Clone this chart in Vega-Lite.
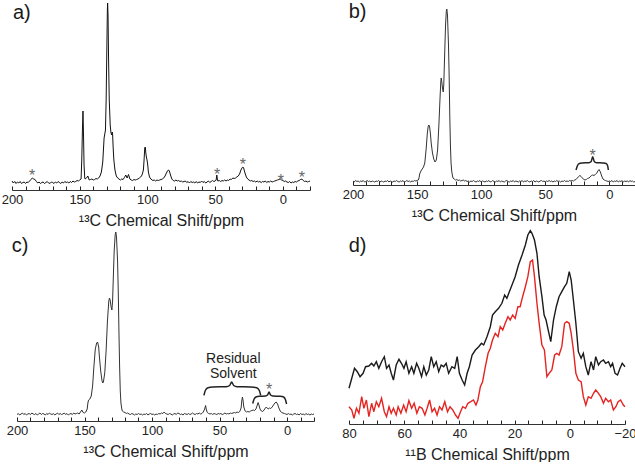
{
"$schema": "https://vega.github.io/schema/vega-lite/v6.json",
"padding": 0,
"background": "white",
"config": {
 "view": {"stroke": null},
 "font": "Liberation Sans",
 "axis": {"labelFont": "Liberation Sans", "titleFont": "Liberation Sans", "labelFontSize": 13, "titleFontSize": 16, "titleFontWeight": "normal", "labelColor": "#222", "titleColor": "#222", "domainColor": "#333", "tickColor": "#222", "tickWidth": 1, "domainWidth": 1, "grid": false},
 "text": {"font": "Liberation Sans"}
},
"datasets": {
 "a": [
  {"x":200,"y":9},{"x":199,"y":7},{"x":198,"y":8.5},{"x":197,"y":6.5},{"x":196,"y":8},{"x":195,"y":7},{"x":194,"y":8.5},{"x":193,"y":6.5},{"x":192,"y":7.5},{"x":191,"y":8},{"x":190,"y":6.5},{"x":189,"y":8},{"x":188,"y":7.5},{"x":187,"y":9},{"x":186,"y":10.5},{"x":185,"y":12},{"x":184,"y":11},{"x":183,"y":10.5},{"x":182,"y":8.5},{"x":181,"y":7},{"x":180,"y":8},{"x":179,"y":6.5},{"x":178,"y":7.5},{"x":177,"y":8},{"x":176,"y":6.5},{"x":175,"y":7.5},{"x":174,"y":8.5},{"x":173,"y":7},{"x":172,"y":6.5},{"x":171,"y":8},{"x":170,"y":7.5},{"x":169,"y":6.5},{"x":168,"y":8},{"x":167,"y":7},{"x":166,"y":8.5},{"x":165,"y":7.5},{"x":164,"y":6.5},{"x":163,"y":8},{"x":162,"y":7},{"x":161,"y":8.5},{"x":160,"y":7.5},{"x":159,"y":8},{"x":158,"y":7},{"x":157,"y":8.5},{"x":156,"y":7.5},{"x":155,"y":9},{"x":154,"y":8},{"x":153,"y":8.5},{"x":152,"y":9.5},{"x":151,"y":9},{"x":150,"y":10},{"x":149,"y":11},{"x":148.5,"y":30},{"x":148,"y":60},{"x":147.6,"y":79},{"x":147.2,"y":55},{"x":146.8,"y":25},{"x":146.3,"y":12},{"x":146,"y":11},{"x":145,"y":12},{"x":144,"y":14},{"x":143,"y":10},{"x":142,"y":10.5},{"x":141,"y":11},{"x":140,"y":10},{"x":139,"y":10.5},{"x":138,"y":11.5},{"x":137,"y":11},{"x":136,"y":12},{"x":135,"y":14},{"x":134,"y":18},{"x":133,"y":28},{"x":132.5,"y":40},{"x":132,"y":52},{"x":131.5,"y":56},{"x":131,"y":60},{"x":130.5,"y":90},{"x":130,"y":140},{"x":129.6,"y":180},{"x":129.4,"y":187},{"x":129.1,"y":175},{"x":128.7,"y":130},{"x":128.2,"y":90},{"x":127.5,"y":65},{"x":127,"y":58},{"x":126.5,"y":55},{"x":126,"y":58},{"x":125.7,"y":55},{"x":125.3,"y":42},{"x":124.8,"y":30},{"x":124,"y":20},{"x":123,"y":14},{"x":122,"y":12},{"x":121,"y":11},{"x":120,"y":10},{"x":119,"y":11},{"x":118,"y":10.5},{"x":117,"y":12.5},{"x":116,"y":15},{"x":115,"y":12},{"x":114,"y":15.5},{"x":113,"y":11},{"x":112,"y":10},{"x":111,"y":9.5},{"x":110,"y":10.5},{"x":109,"y":10},{"x":108,"y":10.5},{"x":107,"y":11},{"x":106,"y":12},{"x":105,"y":13},{"x":104,"y":15},{"x":103,"y":20},{"x":102.5,"y":30},{"x":102,"y":42},{"x":101.6,"y":43},{"x":101.2,"y":37},{"x":100.8,"y":33},{"x":100.3,"y":30},{"x":99.8,"y":25},{"x":99.3,"y":18},{"x":98.5,"y":13},{"x":97.5,"y":11},{"x":96,"y":9.5},{"x":95,"y":10},{"x":94,"y":9},{"x":93,"y":10},{"x":92,"y":9.5},{"x":91,"y":10},{"x":90,"y":10.5},{"x":89,"y":11},{"x":88,"y":12},{"x":87,"y":14},{"x":86,"y":17},{"x":85,"y":19.5},{"x":84.4,"y":20},{"x":83.8,"y":19},{"x":83,"y":15},{"x":82,"y":11},{"x":81,"y":9.5},{"x":80,"y":9},{"x":79,"y":10},{"x":78,"y":9},{"x":77,"y":9.5},{"x":76,"y":8.5},{"x":75,"y":9},{"x":74,"y":8},{"x":73,"y":8.5},{"x":72,"y":9},{"x":71,"y":7.5},{"x":70,"y":8.5},{"x":69,"y":7},{"x":68,"y":8.5},{"x":67,"y":7.5},{"x":66,"y":8},{"x":65,"y":7},{"x":64,"y":8.5},{"x":63,"y":7},{"x":62,"y":8},{"x":61,"y":7.5},{"x":60,"y":9},{"x":59,"y":7.5},{"x":58,"y":8.5},{"x":57,"y":7},{"x":56,"y":8},{"x":55,"y":9},{"x":54,"y":7.5},{"x":53,"y":8.5},{"x":52,"y":9.5},{"x":51,"y":8.5},{"x":50,"y":9},{"x":49.3,"y":10},{"x":48.8,"y":15},{"x":48.3,"y":10},{"x":48,"y":9},{"x":47,"y":9.5},{"x":46,"y":8.5},{"x":45,"y":9.5},{"x":44,"y":9},{"x":43,"y":10},{"x":42,"y":9},{"x":41,"y":10},{"x":40,"y":9.5},{"x":39,"y":11},{"x":38,"y":10.5},{"x":37,"y":12},{"x":36,"y":11.5},{"x":35,"y":12},{"x":34,"y":13},{"x":33,"y":14},{"x":32,"y":16},{"x":31,"y":20},{"x":30,"y":22.5},{"x":29.5,"y":23},{"x":29,"y":22},{"x":28,"y":17},{"x":27,"y":13},{"x":26,"y":11},{"x":25,"y":10},{"x":24,"y":9},{"x":23,"y":9.5},{"x":22,"y":8.5},{"x":21,"y":9},{"x":20,"y":8},{"x":19,"y":9},{"x":18,"y":8},{"x":17,"y":8.5},{"x":16,"y":7.5},{"x":15,"y":8.5},{"x":14,"y":8},{"x":13,"y":9},{"x":12,"y":7.5},{"x":11,"y":8.5},{"x":10,"y":8},{"x":9,"y":9},{"x":8,"y":8},{"x":7,"y":8.5},{"x":6,"y":9},{"x":5,"y":9.5},{"x":4,"y":10},{"x":3,"y":10.5},{"x":2,"y":11},{"x":1,"y":10},{"x":0,"y":9.5},{"x":-1,"y":8.5},{"x":-2,"y":9},{"x":-3,"y":8},{"x":-4,"y":7.5},{"x":-5,"y":8.5},{"x":-6,"y":7},{"x":-7,"y":8},{"x":-8,"y":7.5},{"x":-9,"y":8.5},{"x":-10,"y":8},{"x":-11,"y":9},{"x":-12,"y":9.5},{"x":-13,"y":10.5},{"x":-14,"y":11},{"x":-15,"y":9.5},{"x":-16,"y":8.5},{"x":-17,"y":9},{"x":-18,"y":8},{"x":-19,"y":8.5},{"x":-20,"y":9}
 ],
 "b": [
  {"x":200,"y":4},{"x":199,"y":3},{"x":198,"y":4.5},{"x":197,"y":3.5},{"x":196,"y":4},{"x":195,"y":3},{"x":194,"y":4},{"x":193,"y":3.5},{"x":192,"y":4.5},{"x":191,"y":3},{"x":190,"y":3.5},{"x":189,"y":4.5},{"x":188,"y":3.5},{"x":187,"y":4},{"x":186,"y":3},{"x":185,"y":4},{"x":184,"y":3.5},{"x":183,"y":3},{"x":182,"y":4},{"x":181,"y":3.5},{"x":180,"y":4.5},{"x":179,"y":3},{"x":178,"y":4},{"x":177,"y":3.5},{"x":176,"y":3},{"x":175,"y":4},{"x":174,"y":3.5},{"x":173,"y":4.5},{"x":172,"y":3},{"x":171,"y":4},{"x":170,"y":3.5},{"x":169,"y":3},{"x":168,"y":4},{"x":167,"y":3.5},{"x":166,"y":4.5},{"x":165,"y":3.5},{"x":164,"y":3},{"x":163,"y":4},{"x":162,"y":3.5},{"x":161,"y":4.5},{"x":160,"y":3},{"x":159,"y":3.5},{"x":158,"y":4.5},{"x":157,"y":3.5},{"x":156,"y":4},{"x":155,"y":3},{"x":154,"y":4},{"x":153,"y":3.5},{"x":152,"y":4.5},{"x":151,"y":4},{"x":150,"y":4.5},{"x":149,"y":5},{"x":148.5,"y":7},{"x":148,"y":11},{"x":147,"y":14},{"x":146.5,"y":15},{"x":146,"y":16},{"x":145,"y":18},{"x":144,"y":22},{"x":143,"y":35},{"x":142,"y":52},{"x":141.3,"y":59},{"x":140.8,"y":60},{"x":140.2,"y":58},{"x":139.5,"y":50},{"x":139,"y":42},{"x":138,"y":32},{"x":137,"y":26},{"x":136,"y":23},{"x":135,"y":25},{"x":134,"y":35},{"x":133,"y":60},{"x":132,"y":90},{"x":131.5,"y":103},{"x":131.2,"y":107},{"x":130.8,"y":104},{"x":130.2,"y":97},{"x":129.6,"y":93},{"x":129.2,"y":100},{"x":128.5,"y":130},{"x":127.8,"y":160},{"x":127.2,"y":174},{"x":126.8,"y":176},{"x":126.3,"y":170},{"x":125.5,"y":140},{"x":125,"y":110},{"x":124.5,"y":70},{"x":124,"y":40},{"x":123.5,"y":22},{"x":123,"y":14},{"x":122.5,"y":10},{"x":122,"y":7},{"x":121,"y":6},{"x":120,"y":5},{"x":119,"y":5.5},{"x":118,"y":4.5},{"x":117,"y":5},{"x":116,"y":4},{"x":115,"y":4.5},{"x":114,"y":5},{"x":113,"y":4},{"x":112,"y":4.5},{"x":111,"y":3.5},{"x":110,"y":4},{"x":109,"y":3},{"x":108,"y":4},{"x":107,"y":3.5},{"x":106,"y":4.5},{"x":105,"y":3.5},{"x":104,"y":3},{"x":103,"y":4},{"x":102,"y":3.5},{"x":101,"y":4.5},{"x":100,"y":3},{"x":99,"y":4},{"x":98,"y":3.5},{"x":97,"y":3},{"x":96,"y":4},{"x":95,"y":3.5},{"x":94,"y":4.5},{"x":93,"y":3},{"x":92,"y":3.5},{"x":91,"y":4.5},{"x":90,"y":3.5},{"x":89,"y":3},{"x":88,"y":4},{"x":87,"y":3.5},{"x":86,"y":4.5},{"x":85,"y":3},{"x":84,"y":4},{"x":83,"y":3.5},{"x":82,"y":3},{"x":81,"y":4},{"x":80,"y":4.5},{"x":79,"y":3.5},{"x":78,"y":3},{"x":77,"y":4},{"x":76,"y":3.5},{"x":75,"y":4.5},{"x":74,"y":3},{"x":73,"y":4},{"x":72,"y":3.5},{"x":71,"y":3},{"x":70,"y":4},{"x":69,"y":3.5},{"x":68,"y":4.5},{"x":67,"y":3},{"x":66,"y":4},{"x":65,"y":3.5},{"x":64,"y":4.5},{"x":63,"y":3.5},{"x":62,"y":3},{"x":61,"y":4},{"x":60,"y":3.5},{"x":59,"y":4.5},{"x":58,"y":3},{"x":57,"y":4},{"x":56,"y":3.5},{"x":55,"y":3},{"x":54,"y":4},{"x":53,"y":4.5},{"x":52,"y":3.5},{"x":51,"y":4},{"x":50,"y":3},{"x":49,"y":4},{"x":48,"y":3.5},{"x":47,"y":4.5},{"x":46,"y":3.5},{"x":45,"y":4},{"x":44,"y":3},{"x":43,"y":4},{"x":42,"y":3.5},{"x":41,"y":4.5},{"x":40,"y":3.5},{"x":39,"y":4},{"x":38,"y":3},{"x":37,"y":4},{"x":36,"y":3.5},{"x":35,"y":4.5},{"x":34,"y":3.5},{"x":33,"y":4},{"x":32,"y":3.5},{"x":31,"y":4.5},{"x":30,"y":4},{"x":29,"y":4.5},{"x":28,"y":4},{"x":27,"y":5},{"x":26,"y":5.5},{"x":25,"y":7},{"x":24,"y":8.5},{"x":23,"y":9.5},{"x":22,"y":8.5},{"x":21,"y":7},{"x":20,"y":5.5},{"x":19,"y":5},{"x":18,"y":5.5},{"x":17,"y":6.5},{"x":16,"y":7},{"x":15,"y":8},{"x":14,"y":9.5},{"x":13,"y":10},{"x":12,"y":9.5},{"x":11,"y":10.5},{"x":10,"y":11.5},{"x":9,"y":14},{"x":8,"y":15.5},{"x":7,"y":13},{"x":6,"y":9},{"x":5,"y":6},{"x":4,"y":5},{"x":3,"y":4.5},{"x":2,"y":4},{"x":1,"y":3.5},{"x":0,"y":4},{"x":-1,"y":3.5},{"x":-2,"y":4.5},{"x":-3,"y":3},{"x":-4,"y":4},{"x":-5,"y":3.5},{"x":-6,"y":4.5},{"x":-7,"y":3},{"x":-8,"y":4},{"x":-9,"y":3.5},{"x":-10,"y":4.5},{"x":-11,"y":3},{"x":-12,"y":4},{"x":-13,"y":3.5},{"x":-14,"y":4},{"x":-15,"y":3},{"x":-16,"y":4.5},{"x":-17,"y":3.5},{"x":-18,"y":4},{"x":-19,"y":3},{"x":-20,"y":3.5}
 ],
 "c": [
  {"x":200,"y":6.5},{"x":199,"y":7.5},{"x":198,"y":6},{"x":197,"y":7},{"x":196,"y":8},{"x":195,"y":6.5},{"x":194,"y":7.5},{"x":193,"y":6},{"x":192,"y":7},{"x":191,"y":7.5},{"x":190,"y":6.5},{"x":189,"y":8},{"x":188,"y":7},{"x":187,"y":6.5},{"x":186,"y":7.5},{"x":185,"y":6},{"x":184,"y":7},{"x":183,"y":8},{"x":182,"y":6.5},{"x":181,"y":7.5},{"x":180,"y":7},{"x":179,"y":6},{"x":178,"y":7.5},{"x":177,"y":6.5},{"x":176,"y":8},{"x":175,"y":7},{"x":174,"y":6.5},{"x":173,"y":7.5},{"x":172,"y":6},{"x":171,"y":7},{"x":170,"y":8},{"x":169,"y":6.5},{"x":168,"y":7.5},{"x":167,"y":6.5},{"x":166,"y":7},{"x":165,"y":8},{"x":164,"y":6.5},{"x":163,"y":7.5},{"x":162,"y":6},{"x":161,"y":7},{"x":160,"y":7.5},{"x":159,"y":6.5},{"x":158,"y":8},{"x":157,"y":7},{"x":156,"y":7.5},{"x":155,"y":8},{"x":154,"y":7},{"x":153,"y":9},{"x":152,"y":11},{"x":151,"y":8.5},{"x":150,"y":8},{"x":149,"y":9},{"x":148,"y":12},{"x":147.5,"y":18},{"x":147,"y":21},{"x":146,"y":22},{"x":145,"y":25},{"x":144,"y":35},{"x":143,"y":55},{"x":142,"y":72},{"x":141,"y":78},{"x":140.3,"y":79},{"x":139.5,"y":74},{"x":139,"y":65},{"x":138,"y":50},{"x":137,"y":40},{"x":136.5,"y":38},{"x":136,"y":39},{"x":135,"y":48},{"x":134,"y":70},{"x":133,"y":100},{"x":132,"y":120},{"x":131.5,"y":123},{"x":131,"y":121},{"x":130.3,"y":114},{"x":129.7,"y":111},{"x":129.2,"y":120},{"x":128.5,"y":150},{"x":128,"y":170},{"x":127.3,"y":186},{"x":126.8,"y":189},{"x":126.3,"y":184},{"x":125.5,"y":160},{"x":125,"y":130},{"x":124.5,"y":90},{"x":124,"y":55},{"x":123.5,"y":30},{"x":123,"y":18},{"x":122.5,"y":13},{"x":122,"y":10},{"x":121,"y":9},{"x":120,"y":8.5},{"x":119,"y":7.5},{"x":118,"y":8},{"x":117,"y":7},{"x":116,"y":6.5},{"x":115,"y":7.5},{"x":114,"y":7},{"x":113,"y":6},{"x":112,"y":7},{"x":111,"y":6.5},{"x":110,"y":7.5},{"x":109,"y":6.5},{"x":108,"y":7},{"x":107,"y":6},{"x":106,"y":7},{"x":105,"y":6.5},{"x":104,"y":7.5},{"x":103,"y":6},{"x":102,"y":7},{"x":101,"y":7.5},{"x":100,"y":6.5},{"x":99,"y":7},{"x":98,"y":6},{"x":97,"y":7},{"x":96,"y":6.5},{"x":95,"y":7.5},{"x":94,"y":7},{"x":93,"y":8},{"x":92,"y":7.5},{"x":91,"y":9},{"x":90,"y":7.5},{"x":89,"y":7},{"x":88,"y":6.5},{"x":87,"y":7.5},{"x":86,"y":7},{"x":85,"y":6},{"x":84,"y":7},{"x":83,"y":7.5},{"x":82,"y":6.5},{"x":81,"y":8},{"x":80,"y":7.5},{"x":79,"y":6.5},{"x":78,"y":7},{"x":77,"y":6},{"x":76,"y":7.5},{"x":75,"y":7},{"x":74,"y":6.5},{"x":73,"y":7.5},{"x":72,"y":6.5},{"x":71,"y":7},{"x":70,"y":8},{"x":69,"y":7},{"x":68,"y":6.5},{"x":67,"y":7.5},{"x":66,"y":7},{"x":65,"y":8},{"x":64,"y":7},{"x":63,"y":7.5},{"x":62,"y":9},{"x":61,"y":12},{"x":60.3,"y":15.5},{"x":59.7,"y":11},{"x":59,"y":8.5},{"x":58,"y":7.5},{"x":57,"y":7},{"x":56,"y":7.5},{"x":55,"y":6.5},{"x":54,"y":7.5},{"x":53,"y":7},{"x":52,"y":6.5},{"x":51,"y":7.5},{"x":50,"y":7},{"x":49,"y":7.5},{"x":48,"y":6.5},{"x":47,"y":7},{"x":46,"y":8},{"x":45,"y":7},{"x":44,"y":7.5},{"x":43,"y":7},{"x":42,"y":8},{"x":41,"y":7.5},{"x":40,"y":8},{"x":39,"y":8.5},{"x":38,"y":8},{"x":37,"y":9},{"x":36,"y":8.5},{"x":35,"y":9.5},{"x":34,"y":13},{"x":33.5,"y":20},{"x":33,"y":24},{"x":32.5,"y":20},{"x":32,"y":14},{"x":31,"y":10},{"x":30,"y":9},{"x":29,"y":9.5},{"x":28,"y":9},{"x":27,"y":10},{"x":26,"y":10.5},{"x":25,"y":11},{"x":24,"y":10.5},{"x":23,"y":12},{"x":22,"y":16},{"x":21.4,"y":18.5},{"x":20.8,"y":16},{"x":20,"y":12},{"x":19,"y":10},{"x":18,"y":9.5},{"x":17,"y":11},{"x":16,"y":13},{"x":15.3,"y":14},{"x":14.5,"y":12.5},{"x":14,"y":12},{"x":13,"y":13},{"x":12,"y":12.5},{"x":11,"y":14},{"x":10,"y":16},{"x":9,"y":18},{"x":8,"y":19},{"x":7,"y":17},{"x":6,"y":13},{"x":5,"y":10},{"x":4,"y":8.5},{"x":3,"y":8},{"x":2,"y":7.5},{"x":1,"y":7},{"x":0,"y":6.5},{"x":-1,"y":7.5},{"x":-2,"y":6.5},{"x":-3,"y":7},{"x":-4,"y":6},{"x":-5,"y":7},{"x":-6,"y":7.5},{"x":-7,"y":6.5},{"x":-8,"y":7},{"x":-9,"y":6},{"x":-10,"y":7.5},{"x":-11,"y":6.5},{"x":-12,"y":7},{"x":-13,"y":6},{"x":-14,"y":7.5},{"x":-15,"y":6.5},{"x":-16,"y":7},{"x":-17,"y":6},{"x":-18,"y":7},{"x":-19,"y":6.5},{"x":-20,"y":7}
 ],
 "d": [
  {"s":"k","x":80.0,"y":35.7},{"s":"k","x":79.0,"y":45.7},{"s":"k","x":78.0,"y":55.7},{"s":"k","x":77.0,"y":52.3},{"s":"k","x":76.0,"y":47.3},{"s":"k","x":74.9,"y":50.7},{"s":"k","x":74.0,"y":57.3},{"s":"k","x":72.8,"y":58.0},{"s":"k","x":71.8,"y":60.7},{"s":"k","x":71.0,"y":58.0},{"s":"k","x":70.1,"y":62.3},{"s":"k","x":69.2,"y":55.7},{"s":"k","x":68.2,"y":62.3},{"s":"k","x":67.2,"y":67.3},{"s":"k","x":66.4,"y":55.7},{"s":"k","x":65.5,"y":59.0},{"s":"k","x":64.7,"y":50.7},{"s":"k","x":63.9,"y":44.0},{"s":"k","x":62.9,"y":59.0},{"s":"k","x":61.9,"y":64.7},{"s":"k","x":61.0,"y":60.7},{"s":"k","x":60.1,"y":55.7},{"s":"k","x":59.3,"y":62.3},{"s":"k","x":58.3,"y":50.7},{"s":"k","x":57.3,"y":57.3},{"s":"k","x":56.5,"y":50.7},{"s":"k","x":55.5,"y":60.7},{"s":"k","x":54.7,"y":55.7},{"s":"k","x":53.7,"y":47.3},{"s":"k","x":52.9,"y":57.3},{"s":"k","x":52.0,"y":49.0},{"s":"k","x":51.1,"y":54.0},{"s":"k","x":50.2,"y":67.3},{"s":"k","x":49.3,"y":57.3},{"s":"k","x":48.4,"y":62.3},{"s":"k","x":47.5,"y":52.3},{"s":"k","x":46.6,"y":59.0},{"s":"k","x":45.7,"y":57.3},{"s":"k","x":44.8,"y":60.7},{"s":"k","x":43.9,"y":50.7},{"s":"k","x":42.7,"y":57.3},{"s":"k","x":41.7,"y":55.7},{"s":"k","x":40.8,"y":67.3},{"s":"k","x":40.0,"y":50.7},{"s":"k","x":39.0,"y":44.0},{"s":"k","x":38.1,"y":39.0},{"s":"k","x":37.2,"y":50.7},{"s":"k","x":36.4,"y":57.3},{"s":"k","x":35.4,"y":69.0},{"s":"k","x":34.2,"y":74.0},{"s":"k","x":33.0,"y":77.3},{"s":"k","x":32.0,"y":80.7},{"s":"k","x":31.2,"y":79.0},{"s":"k","x":30.0,"y":87.3},{"s":"k","x":28.8,"y":97.3},{"s":"k","x":28.0,"y":109.0},{"s":"k","x":27.0,"y":112.3},{"s":"k","x":25.8,"y":115.7},{"s":"k","x":24.6,"y":120.7},{"s":"k","x":23.6,"y":129.0},{"s":"k","x":22.8,"y":125.7},{"s":"k","x":21.9,"y":132.3},{"s":"k","x":20.7,"y":140.7},{"s":"k","x":19.8,"y":147.3},{"s":"k","x":18.6,"y":159.0},{"s":"k","x":17.3,"y":169.0},{"s":"k","x":16.1,"y":179.0},{"s":"k","x":15.2,"y":189.0},{"s":"k","x":14.3,"y":193.3},{"s":"k","x":13.7,"y":190.7},{"s":"k","x":12.8,"y":184.0},{"s":"k","x":11.9,"y":170.7},{"s":"k","x":11.1,"y":147.3},{"s":"k","x":10.1,"y":127.3},{"s":"k","x":9.3,"y":109.0},{"s":"k","x":8.6,"y":104.0},{"s":"k","x":7.7,"y":92.3},{"s":"k","x":6.9,"y":82.3},{"s":"k","x":5.9,"y":104.0},{"s":"k","x":4.9,"y":117.3},{"s":"k","x":3.9,"y":127.3},{"s":"k","x":2.9,"y":132.3},{"s":"k","x":1.9,"y":137.3},{"s":"k","x":1.1,"y":140.7},{"s":"k","x":0.2,"y":152.3},{"s":"k","x":-0.5,"y":144.0},{"s":"k","x":-1.3,"y":124.0},{"s":"k","x":-2.2,"y":100.7},{"s":"k","x":-3.1,"y":72.3},{"s":"k","x":-4.1,"y":65.7},{"s":"k","x":-4.9,"y":70.7},{"s":"k","x":-5.8,"y":57.3},{"s":"k","x":-6.7,"y":49.0},{"s":"k","x":-7.7,"y":62.3},{"s":"k","x":-8.6,"y":54.0},{"s":"k","x":-9.4,"y":67.3},{"s":"k","x":-10.4,"y":59.0},{"s":"k","x":-11.2,"y":62.3},{"s":"k","x":-12.2,"y":64.0},{"s":"k","x":-13.0,"y":60.7},{"s":"k","x":-14.0,"y":62.3},{"s":"k","x":-14.8,"y":57.3},{"s":"k","x":-15.5,"y":60.7},{"s":"k","x":-16.4,"y":50.7},{"s":"k","x":-17.3,"y":49.0},{"s":"k","x":-18.2,"y":55.7},{"s":"k","x":-19.0,"y":60.7},{"s":"k","x":-20.0,"y":57.3},
  {"s":"r","x":80.0,"y":17.3},{"s":"r","x":79.0,"y":14.0},{"s":"r","x":78.2,"y":5.7},{"s":"r","x":77.3,"y":15.7},{"s":"r","x":76.4,"y":10.7},{"s":"r","x":75.4,"y":27.3},{"s":"r","x":74.6,"y":15.7},{"s":"r","x":73.7,"y":24.0},{"s":"r","x":72.8,"y":7.3},{"s":"r","x":71.8,"y":20.7},{"s":"r","x":71.0,"y":12.3},{"s":"r","x":70.1,"y":22.3},{"s":"r","x":69.2,"y":17.3},{"s":"r","x":68.2,"y":25.7},{"s":"r","x":67.2,"y":12.3},{"s":"r","x":66.4,"y":7.3},{"s":"r","x":65.5,"y":17.3},{"s":"r","x":64.7,"y":10.7},{"s":"r","x":63.9,"y":15.7},{"s":"r","x":62.9,"y":9.0},{"s":"r","x":62.2,"y":17.3},{"s":"r","x":61.2,"y":10.7},{"s":"r","x":60.2,"y":19.0},{"s":"r","x":59.3,"y":12.3},{"s":"r","x":58.3,"y":23.3},{"s":"r","x":57.3,"y":15.7},{"s":"r","x":56.4,"y":20.7},{"s":"r","x":55.4,"y":10.7},{"s":"r","x":54.5,"y":17.3},{"s":"r","x":53.5,"y":15.7},{"s":"r","x":52.5,"y":9.0},{"s":"r","x":51.7,"y":15.7},{"s":"r","x":50.8,"y":24.0},{"s":"r","x":49.9,"y":12.3},{"s":"r","x":49.0,"y":15.7},{"s":"r","x":48.1,"y":9.0},{"s":"r","x":47.2,"y":17.3},{"s":"r","x":46.3,"y":14.0},{"s":"r","x":45.3,"y":22.3},{"s":"r","x":44.3,"y":12.3},{"s":"r","x":43.4,"y":17.3},{"s":"r","x":42.4,"y":14.0},{"s":"r","x":41.4,"y":9.0},{"s":"r","x":40.5,"y":5.7},{"s":"r","x":39.6,"y":12.3},{"s":"r","x":38.8,"y":17.3},{"s":"r","x":37.8,"y":15.7},{"s":"r","x":36.9,"y":20.7},{"s":"r","x":35.9,"y":22.3},{"s":"r","x":34.9,"y":24.0},{"s":"r","x":34.0,"y":19.0},{"s":"r","x":33.3,"y":24.0},{"s":"r","x":32.4,"y":37.3},{"s":"r","x":31.6,"y":42.3},{"s":"r","x":30.6,"y":57.3},{"s":"r","x":29.6,"y":70.7},{"s":"r","x":28.8,"y":75.7},{"s":"r","x":28.0,"y":84.0},{"s":"r","x":27.0,"y":90.7},{"s":"r","x":26.0,"y":87.3},{"s":"r","x":25.2,"y":97.3},{"s":"r","x":24.3,"y":94.0},{"s":"r","x":23.4,"y":100.7},{"s":"r","x":22.4,"y":107.3},{"s":"r","x":21.6,"y":104.0},{"s":"r","x":20.7,"y":109.0},{"s":"r","x":19.8,"y":105.7},{"s":"r","x":18.8,"y":117.3},{"s":"r","x":18.0,"y":117.3},{"s":"r","x":17.1,"y":127.3},{"s":"r","x":16.1,"y":137.3},{"s":"r","x":15.2,"y":147.3},{"s":"r","x":14.3,"y":162.3},{"s":"r","x":13.5,"y":164.0},{"s":"r","x":12.8,"y":147.3},{"s":"r","x":11.9,"y":120.7},{"s":"r","x":11.1,"y":100.7},{"s":"r","x":10.1,"y":79.0},{"s":"r","x":9.2,"y":74.0},{"s":"r","x":8.3,"y":47.3},{"s":"r","x":7.5,"y":50.7},{"s":"r","x":6.5,"y":54.0},{"s":"r","x":5.5,"y":69.0},{"s":"r","x":4.7,"y":70.7},{"s":"r","x":3.9,"y":69.0},{"s":"r","x":2.9,"y":77.3},{"s":"r","x":1.9,"y":100.7},{"s":"r","x":1.1,"y":102.3},{"s":"r","x":0.2,"y":100.7},{"s":"r","x":-0.5,"y":90.7},{"s":"r","x":-1.3,"y":74.0},{"s":"r","x":-2.2,"y":50.7},{"s":"r","x":-3.1,"y":44.0},{"s":"r","x":-4.1,"y":42.3},{"s":"r","x":-4.9,"y":27.3},{"s":"r","x":-5.8,"y":19.0},{"s":"r","x":-6.7,"y":27.3},{"s":"r","x":-7.7,"y":25.7},{"s":"r","x":-8.6,"y":30.7},{"s":"r","x":-9.4,"y":34.0},{"s":"r","x":-10.4,"y":30.7},{"s":"r","x":-11.2,"y":27.3},{"s":"r","x":-12.2,"y":20.7},{"s":"r","x":-13.0,"y":25.7},{"s":"r","x":-14.0,"y":22.3},{"s":"r","x":-14.8,"y":24.0},{"s":"r","x":-15.8,"y":14.0},{"s":"r","x":-16.7,"y":17.3},{"s":"r","x":-17.5,"y":22.3},{"s":"r","x":-18.4,"y":24.0},{"s":"r","x":-19.4,"y":19.0},{"s":"r","x":-20.0,"y":17.3}
 ],
 "braceB": [
  {"id":1,"o":1,"x":26,"y":15},{"id":1,"o":2,"x":25,"y":19},{"id":1,"o":3,"x":23.5,"y":21.5},{"id":1,"o":4,"x":21,"y":22},{"id":1,"o":5,"x":16,"y":22.3},{"id":1,"o":6,"x":14.2,"y":23.5},{"id":1,"o":7,"x":13,"y":28.3},{"id":1,"o":8,"x":11.8,"y":23.5},{"id":1,"o":9,"x":10,"y":22.3},{"id":1,"o":10,"x":5,"y":22},{"id":1,"o":11,"x":2.5,"y":21.5},{"id":1,"o":12,"x":1.3,"y":19},{"id":1,"o":13,"x":0.8,"y":15}
 ],
 "braceC": [
  {"id":1,"o":1,"x":61.5,"y":25.7},{"id":1,"o":2,"x":60.5,"y":30.5},{"id":1,"o":3,"x":58.5,"y":33.3},{"id":1,"o":4,"x":55,"y":34},{"id":1,"o":5,"x":45,"y":34.3},{"id":1,"o":6,"x":42.5,"y":35.5},{"id":1,"o":7,"x":41,"y":39},{"id":1,"o":8,"x":39.5,"y":35.5},{"id":1,"o":9,"x":37,"y":34.3},{"id":1,"o":10,"x":27,"y":34},{"id":1,"o":11,"x":22.5,"y":33.3},{"id":1,"o":12,"x":20.5,"y":30.5},{"id":1,"o":13,"x":19.5,"y":25.7},
  {"id":2,"o":1,"x":25.4,"y":17.5},{"id":2,"o":2,"x":24.5,"y":21.5},{"id":2,"o":3,"x":23,"y":24},{"id":2,"o":4,"x":20.5,"y":24.7},{"id":2,"o":5,"x":16,"y":25},{"id":2,"o":6,"x":14.4,"y":26},{"id":2,"o":7,"x":13.3,"y":29},{"id":2,"o":8,"x":12.2,"y":26},{"id":2,"o":9,"x":10.5,"y":25},{"id":2,"o":10,"x":5,"y":24.7},{"id":2,"o":11,"x":2.5,"y":24},{"id":2,"o":12,"x":1.2,"y":21.5},{"id":2,"o":13,"x":0.3,"y":17}
 ]
},
"spacing": -1,
"align": "none",
"vconcat": [
 {"spacing": 0, "align": "none", "hconcat": [
  {"width": 298, "height": 190,
   "encoding": {
    "x": {"field": "x", "type": "quantitative", "scale": {"domain": [-20, 200], "reverse": true, "nice": false},
     "axis": {"title": "¹³C Chemical Shift/ppm", "values": [200,190,180,170,160,150,140,130,120,110,100,90,80,70,60,50,40,30,20,10,0,-10,-20], "labelExpr": "datum.value % 50 === 0 ? format(datum.value,'d') : ''", "tickSize": -4, "labelPadding": 7, "titlePadding": 6, "labelFlush": false, "labelOverlap": false}},
    "y": {"field": "y", "type": "quantitative", "scale": {"domain": [0, 190], "nice": false},
     "axis": {"labels": false, "ticks": false, "domain": false, "grid": false, "title": null, "minExtent": 12, "maxExtent": 12}}
   },
   "layer": [
    {"data": {"name": "a"}, "mark": {"type": "line", "color": "#111", "strokeWidth": 1}},
    {"data": {"values": [{"x":185.2,"y":17.7},{"x":48.5,"y":19},{"x":29.5,"y":29},{"x":1.5,"y":13.3},{"x":-14,"y":16}]}, "mark": {"type": "text", "color": "#666", "fontSize": 16, "baseline": "middle", "dy": 4, "text": "*"}},
    {"data": {"values": [{"x":199.3,"y":171,"t":"a)"}]}, "mark": {"type": "text", "fontSize": 20, "align": "left", "baseline": "alphabetic", "color": "#1a1a1a"}, "encoding": {"text": {"field": "t"}}}
   ]
  },
  {"width": 282, "height": 185,
   "encoding": {
    "x": {"field": "x", "type": "quantitative", "scale": {"domain": [-20, 200], "reverse": true, "nice": false},
     "axis": {"title": "¹³C Chemical Shift/ppm", "values": [200,190,180,170,160,150,140,130,120,110,100,90,80,70,60,50,40,30,20,10,0,-10,-20], "labelExpr": "datum.value % 50 === 0 ? format(datum.value,'d') : ''", "tickSize": -4, "labelPadding": 7, "titlePadding": 6, "labelFlush": false, "labelOverlap": false}},
    "y": {"field": "y", "type": "quantitative", "scale": {"domain": [0, 185], "nice": false},
     "axis": {"labels": false, "ticks": false, "domain": false, "grid": false, "title": null, "minExtent": 41, "maxExtent": 41}}
   },
   "layer": [
    {"data": {"name": "b"}, "mark": {"type": "line", "color": "#333", "strokeWidth": 1}},
    {"data": {"name": "braceB"}, "mark": {"type": "line", "color": "#222", "strokeWidth": 1.5, "interpolate": "monotone"}, "encoding": {"detail": {"field": "id"}, "order": {"field": "o"}}},
    {"data": {"values": [{"x":13,"y":33.3}]}, "mark": {"type": "text", "color": "#666", "fontSize": 16, "baseline": "middle", "dy": 4, "text": "*"}},
    {"data": {"values": [{"x":203.4,"y":167,"t":"b)"}]}, "mark": {"type": "text", "fontSize": 20, "align": "left", "baseline": "alphabetic", "color": "#1a1a1a"}, "encoding": {"text": {"field": "t"}}}
   ]
  }
 ]},
 {"spacing": 0, "align": "none", "hconcat": [
  {"width": 302, "height": 192,
   "encoding": {
    "x": {"field": "x", "type": "quantitative", "scale": {"domain": [-20, 200], "range": [5, 302], "reverse": true, "nice": false},
     "axis": {"title": "¹³C Chemical Shift/ppm", "values": [200,190,180,170,160,150,140,130,120,110,100,90,80,70,60,50,40,30,20,10,0,-10,-20], "labelExpr": "datum.value % 50 === 0 ? format(datum.value,'d') : ''", "tickSize": -4, "labelPadding": 7, "titlePadding": 6, "labelFlush": false, "labelOverlap": false}},
    "y": {"field": "y", "type": "quantitative", "scale": {"domain": [0, 192], "nice": false},
     "axis": {"labels": false, "ticks": false, "domain": false, "grid": false, "title": null, "minExtent": 12, "maxExtent": 12}}
   },
   "layer": [
    {"data": {"name": "c"}, "mark": {"type": "line", "color": "#333", "strokeWidth": 1}},
    {"data": {"name": "braceC"}, "mark": {"type": "line", "color": "#222", "strokeWidth": 1.5, "interpolate": "monotone"}, "encoding": {"detail": {"field": "id"}, "order": {"field": "o"}}},
    {"data": {"values": [{"x":13.3,"y":34.7}]}, "mark": {"type": "text", "color": "#666", "fontSize": 16, "baseline": "middle", "dy": 4, "text": "*"}},
    {"data": {"values": [{"x":39.8,"y":62.3,"t":"Residual"},{"x":39.8,"y":46.7,"t":"Solvent"}]}, "mark": {"type": "text", "fontSize": 14, "align": "center", "baseline": "middle", "color": "#222"}, "encoding": {"text": {"field": "t"}}},
    {"data": {"values": [{"x":203.9,"y":169,"t":"c)"}]}, "mark": {"type": "text", "fontSize": 20, "align": "left", "baseline": "alphabetic", "color": "#1a1a1a"}, "encoding": {"text": {"field": "t"}}}
   ]
  },
  {"width": 276, "height": 195,
   "encoding": {
    "x": {"field": "x", "type": "quantitative", "scale": {"domain": [-20, 80], "reverse": true, "nice": false},
     "axis": {"title": "¹¹B Chemical Shift/ppm", "values": [80,75,70,65,60,55,50,45,40,35,30,25,20,15,10,5,0,-5,-10,-15,-20], "labelExpr": "datum.value % 20 === 0 ? format(datum.value,'d') : ''", "tickSize": -4, "labelPadding": 7, "titlePadding": 6, "labelFlush": false, "labelOverlap": false}},
    "y": {"field": "y", "type": "quantitative", "scale": {"domain": [0, 195], "nice": false},
     "axis": {"labels": false, "ticks": false, "domain": false, "grid": false, "title": null, "minExtent": 33, "maxExtent": 33}}
   },
   "layer": [
    {"data": {"name": "d"}, "mark": {"type": "line", "strokeWidth": 1.4}, "encoding": {"color": {"field": "s", "type": "nominal", "scale": {"domain": ["k", "r"], "range": ["#1a1a1a", "#e52421"]}, "legend": null}}},
    {"data": {"values": [{"x":80.1,"y":172,"t":"d)"}]}, "mark": {"type": "text", "fontSize": 20, "align": "left", "baseline": "alphabetic", "color": "#1a1a1a"}, "encoding": {"text": {"field": "t"}}}
   ]
  }
 ]}
]
}
